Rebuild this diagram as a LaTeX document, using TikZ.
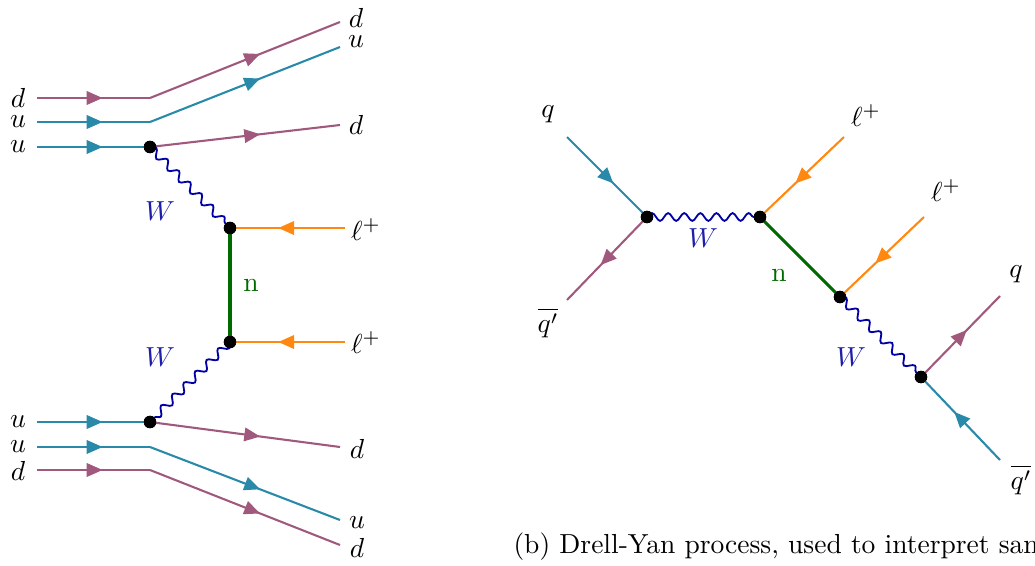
\RequirePackage{fix-cm}
\documentclass[tikz,border=0pt]{standalone}
\usetikzlibrary{arrows.meta,decorations.markings,decorations.pathmorphing}
\definecolor{qpurple}{RGB}{160,88,125}
\definecolor{qteal}{RGB}{40,138,168}
\definecolor{lorange}{RGB}{255,136,17}
\definecolor{ngreen}{RGB}{0,105,0}
\definecolor{wblue}{RGB}{0,0,165}
\definecolor{wlabel}{RGB}{30,30,170}
\tikzset{
  fermion/.style={draw, line width=0.8pt, postaction={decorate},
    decoration={markings, mark=at position 0.58 with {\arrow{Triangle[length=6.1pt,width=5.2pt]}}}},
  photon/.style={draw=wblue, line width=0.7pt, decorate,
    decoration={snake, amplitude=1.5pt, segment length=6.2pt}},
  heavy/.style={draw=ngreen, line width=1.2pt},
  vtx/.style={circle, fill=black, inner sep=0pt, minimum size=4.8pt},
  lbl/.style={inner sep=0pt},
}
\begin{document}
\begin{tikzpicture}[x=0.385pt,y=-0.385pt,font=\fontsize{10.6}{13}\selectfont]
\useasboundingbox (0,0) rectangle (1035,565);
\clip (0,0) rectangle (1035,565);
% ---------------- left diagram ----------------
\coordinate (a1) at (37,98);  \coordinate (k1) at (150,98);  \coordinate (b1) at (340,22);
\coordinate (a2) at (37,122); \coordinate (k2) at (150,122); \coordinate (b2) at (340,47);
\coordinate (a3) at (37,147); \coordinate (b3) at (340,125);
\coordinate (l1) at (345,228); \coordinate (l2) at (345,342);
\coordinate (a4) at (37,422); \coordinate (b4) at (340,447);
\coordinate (a5) at (37,447); \coordinate (k5) at (150,447); \coordinate (b5) at (340,520);
\coordinate (a6) at (37,470); \coordinate (k6) at (150,470); \coordinate (b6) at (340,545);
\node[vtx] (v1) at (150,147) {};
\node[vtx] (v2) at (230,228) {};
\node[vtx] (v3) at (230,342) {};
\node[vtx] (v4) at (150,422) {};

\path[fermion,qpurple] (a1) -- (k1);
\path[fermion,qpurple] (k1) -- (b1);
\path[fermion,qteal] (a2) -- (k2);
\path[fermion,qteal] (k2) -- (b2);
\path[fermion,qteal] (a3) -- (v1.center);
\path[fermion,qpurple] (v1.center) -- (b3);
\path[photon] (v1.center) -- (v2.center);
\path[fermion,lorange] (l1) -- (v2.center);
\path[heavy] (v2.center) -- (v3.center);
\path[fermion,lorange] (l2) -- (v3.center);
\path[photon] (v3.center) -- (v4.center);
\path[fermion,qteal] (a4) -- (v4.center);
\path[fermion,qpurple] (v4.center) -- (b4);
\path[fermion,qteal] (a5) -- (k5);
\path[fermion,qteal] (k5) -- (b5);
\path[fermion,qpurple] (a6) -- (k6);
\path[fermion,qpurple] (k6) -- (b6);
\foreach \v in {v1,v2,v3,v4} \node[vtx] at (\v) {};

\node[lbl] (ld1) at (18,98) {$d$};
\node[lbl] (lu1) at (18,122) {$u$};
\node[lbl] (lu2) at (18,147) {$u$};
\node[lbl] (rd1) at (356,18) {$d$};
\node[lbl] (ru1) at (356,42) {$u$};
\node[lbl] (rd2) at (356,125) {$d$};
\node[lbl,text=wlabel] (w1) at (160,211) {$W$};
\node[lbl] (lp1) at (366,230) {$\ell^+$};
\node[lbl,text=ngreen] (n1) at (251,285) {n};
\node[lbl] (lp2) at (366,343) {$\ell^+$};
\node[lbl,text=wlabel] (w2) at (160,357) {$W$};
\node[lbl] (lu3) at (18,422) {$u$};
\node[lbl] (lu4) at (18,447) {$u$};
\node[lbl] (ld2) at (18,471) {$d$};
\node[lbl] (rd3) at (357,449) {$d$};
\node[lbl] (ru2) at (357,523) {$u$};
\node[lbl] (rd4) at (357,548) {$d$};

% ---------------- right diagram ----------------
\coordinate (q1) at (567,137);
\coordinate (q2) at (567,300);
\coordinate (e1) at (844,137);
\coordinate (e2) at (924,217);
\coordinate (q3) at (1000,296);
\coordinate (q4) at (1000,460);
\node[vtx] (v5) at (647,217) {};
\node[vtx] (v6) at (760,217) {};
\node[vtx] (v7) at (840,297) {};
\node[vtx] (v8) at (921,377) {};

\path[fermion,qteal] (q1) -- (v5.center);
\path[fermion,qpurple] (v5.center) -- (q2);
\path[photon] (v5.center) -- (v6.center);
\path[fermion,lorange] (e1) -- (v6.center);
\path[heavy] (v6.center) -- (v7.center);
\path[fermion,lorange] (e2) -- (v7.center);
\path[photon] (v7.center) -- (v8.center);
\path[fermion,qpurple] (v8.center) -- (q3);
\path[fermion,qteal] (q4) -- (v8.center);
\foreach \v in {v5,v6,v7,v8} \node[vtx] at (\v) {};

\node[lbl] (tq1) at (548,114) {$q$};
\node[lbl] (tq2) at (548,323) {$\overline{q'}$};
\node[lbl,text=wlabel] (w3) at (703,238) {$W$};
\node[lbl] (te1) at (866,116) {$\ell^+$};
\node[lbl,text=ngreen] (n2) at (779,275) {n};
\node[lbl] (te2) at (946,191) {$\ell^+$};
\node[lbl,text=wlabel] (w4) at (851,357) {$W$};
\node[lbl] (tq3) at (1016,274) {$q$};
\node[lbl] (tq4) at (1021,480) {$\overline{q'}$};

\node[anchor=base west, inner sep=0pt] (cap) at (513,553) {(b) Drell-Yan process, used to interpret same-sign};
\end{tikzpicture}
\end{document}
